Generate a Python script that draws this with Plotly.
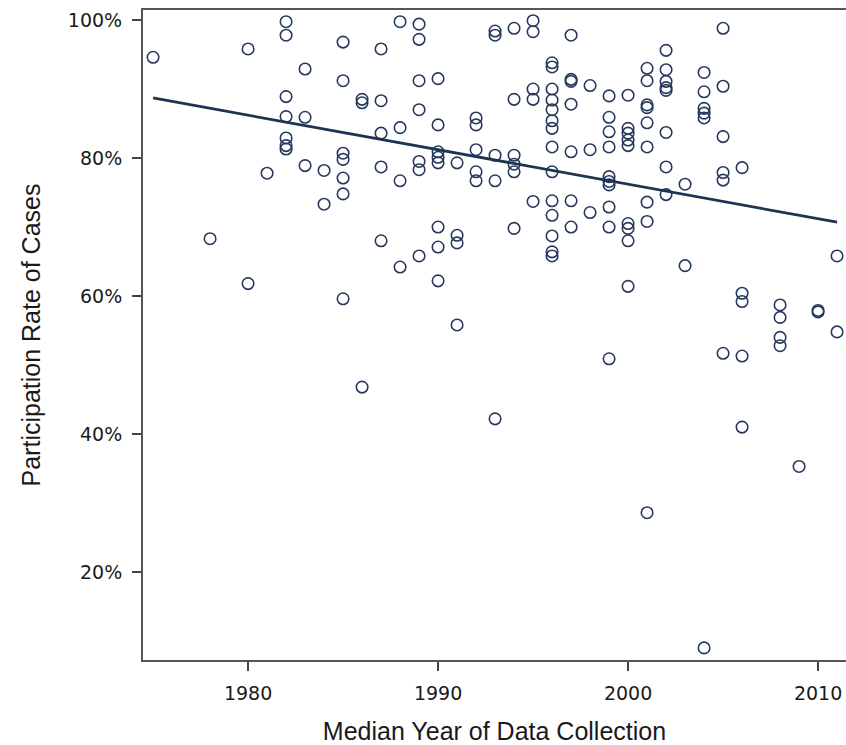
import plotly.graph_objects as go

years = (
    [1975, 1978, 1980, 1980, 1981]
    + [1982] * 7 + [1983] * 3 + [1984] * 2 + [1985] * 7 + [1986] * 3 + [1987] * 5
    + [1988] * 4 + [1989] * 7 + [1990] * 8 + [1991] * 4 + [1992] * 5 + [1993] * 5
    + [1994] * 6 + [1995] * 5 + [1996] * 14 + [1997] * 7 + [1998] * 3 + [1999] * 10
    + [2000] * 9 + [2001] * 9 + [2002] * 8 + [2003] * 2 + [2004] * 6 + [2005] * 6
    + [2006] * 5 + [2008] * 4 + [2009] + [2010] * 2 + [2011] * 2
)

rates = [
    94.6, 68.3, 95.8, 61.8, 77.8,
    99.75, 97.8, 88.9, 86.0, 82.9, 81.8, 81.3,          # 1982
    92.9, 85.9, 78.9,                                    # 1983
    78.2, 73.3,                                          # 1984
    96.8, 91.2, 80.7, 79.8, 77.1, 74.8, 59.6,            # 1985
    88.5, 88.0, 46.8,                                    # 1986
    95.8, 88.3, 83.6, 78.7, 68.0,                        # 1987
    99.75, 84.4, 76.7, 64.2,                             # 1988
    99.4, 97.2, 91.2, 87.0, 79.5, 78.3, 65.8,            # 1989
    91.5, 84.8, 80.9, 80.1, 79.3, 70.0, 67.1, 62.2,      # 1990
    79.3, 68.8, 67.7, 55.8,                              # 1991
    85.8, 84.8, 81.2, 78.0, 76.7,                        # 1992
    98.4, 97.8, 80.4, 76.7, 42.2,                        # 1993
    98.8, 88.5, 80.4, 79.1, 78.0, 69.8,                  # 1994
    99.9, 98.3, 90.0, 88.5, 73.7,                        # 1995
    93.8, 93.2, 90.0, 88.4, 87.0, 85.4, 84.3, 81.6,
    78.0, 73.8, 71.7, 68.7, 66.4, 65.8,                  # 1996
    97.8, 91.4, 91.1, 87.8, 80.9, 73.8, 70.0,            # 1997
    90.5, 81.2, 72.1,                                    # 1998
    89.0, 85.9, 83.8, 81.6, 77.3, 76.6, 76.1, 72.9, 70.0, 50.9,  # 1999
    89.1, 84.3, 83.6, 82.6, 81.8, 70.5, 69.8, 68.0, 61.4,        # 2000
    93.0, 91.2, 87.7, 87.3, 85.1, 81.6, 73.6, 70.8, 28.6,        # 2001
    95.6, 92.8, 91.1, 90.2, 89.8, 83.7, 78.7, 74.7,              # 2002
    76.2, 64.4,                                          # 2003
    92.4, 89.6, 87.2, 86.5, 85.8, 9.0,                   # 2004
    98.8, 90.4, 83.1, 77.9, 76.8, 51.7,                  # 2005
    78.6, 60.4, 59.2, 51.3, 41.0,                        # 2006
    58.7, 56.9, 54.0, 52.8,                              # 2008
    35.3,                                                # 2009
    57.7, 57.9,                                          # 2010
    65.8, 54.8,                                          # 2011
]

trend_years = [1975, 2011]
trend_rates = [88.7, 70.7]

x_ticks = [1980, 1990, 2000, 2010]
y_ticks = [20, 40, 60, 80, 100]
y_tick_labels = ["20%", "40%", "60%", "80%", "100%"]

navy = "#27385f"
tick_font = dict(size=19, family="DejaVu Sans", color="#1a1a1a")
title_font = dict(size=25, family="Liberation Sans", color="#1a1a1a")

fig = go.Figure()
fig.add_trace(go.Scatter(
    x=years, y=rates, mode="markers",
    marker=dict(symbol="circle-open", size=11.5, color=navy, line=dict(width=1.6, color=navy)),
    hoverinfo="skip", showlegend=False,
))
fig.add_trace(go.Scatter(
    x=trend_years, y=trend_rates, mode="lines",
    line=dict(color="#1e3352", width=2.8),
    hoverinfo="skip", showlegend=False,
))

fig.update_layout(
    width=846, height=745,
    margin=dict(l=143, r=0, t=10, b=85),
    paper_bgcolor="white", plot_bgcolor="white",
    font=dict(family="DejaVu Sans", color="#1a1a1a"),
    xaxis=dict(
        range=[1974.47, 2011.47], tickvals=x_ticks,
        ticks="outside", ticklen=9, tickwidth=1.5, tickcolor="#444",
        ticklabelstandoff=6,
        showgrid=False, zeroline=False,
        showline=True, linecolor="#555", linewidth=2, mirror=True,
        tickfont=tick_font,
        title=dict(text="Median Year of Data Collection", font=title_font, standoff=22),
    ),
    yaxis=dict(
        range=[7.25, 101.45], tickvals=y_ticks, ticktext=y_tick_labels,
        ticks="outside", ticklen=9, tickwidth=1.5, tickcolor="#444",
        ticklabelstandoff=6,
        showgrid=False, zeroline=False,
        showline=True, linecolor="#555", linewidth=2,
        tickfont=tick_font,
        title=dict(text="Participation Rate of Cases", font=title_font, standoff=20),
    ),
)

fig.write_html(
    "out.html",
    config={"displayModeBar": False},
    post_script=(
        "document.body.style.margin='0';"
        "document.body.style.overflow='hidden';"
        "document.documentElement.style.overflow='hidden';"
    ),
)
